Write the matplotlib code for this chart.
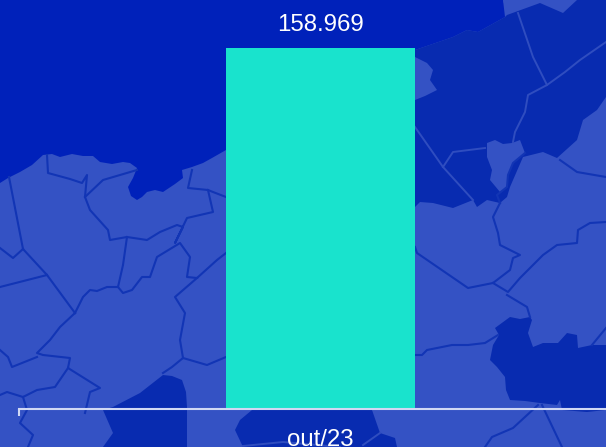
import matplotlib
matplotlib.use('Agg')
import matplotlib.pyplot as plt
from matplotlib.patches import Polygon

plt.rcParams['font.family'] = ['Liberation Sans', 'DejaVu Sans']

categories = ['out/23']
values = [158.969]

W, H = 606, 447
land_color = '#3452c4'
water_color = '#0021ba'
mid_color = '#082bb0'
dark_line = '#1235b5'
light_line = '#2f4dc0'
bar_color = '#19e3cd'
axis_color = '#d0d8f4'

# backdrop map, in pixels of the picture
water = [(0,0),(503,0),(505,17),(478,32),(467,30),(453,37),(415,50),(226,150),(212,158),(203,163),(192,167),(182,170),
         (183,178),(175,184),(163,192),(155,190),(147,192),(142,197),(137,200),(131,196),(128,187),(133,178),(137,168),
         (130,163),(123,162),(112,164),(100,162),(93,156),(83,156),(72,154),(60,157),(52,154),(43,155),
         (32,165),(20,172),(8,178),(0,183)]
north_land = [(503,0),(540,0),(540,3),(507,15)]
east_mid = [(415,50),(453,37),(467,30),(478,32),(505,17),(507,15),(540,3),(563,13),(577,0),(606,0),(606,97),
            (597,110),(583,120),(577,140),(557,158),(543,152),(523,157),(510,187),(507,197),(500,203),(487,200),
            (477,207),(473,200),(453,208),(433,203),(420,202),(415,207)]
inner_land = [(487,143),(495,140),(503,144),(512,143),(520,140),(525,153),(513,163),(508,175),(507,187),(500,192),
              (490,180),(492,170),(487,157)]
coast_bump = [(415,57),(427,63),(433,70),(430,80),(437,90),(425,96),(415,100)]
south_mid = [(163,375),(172,376),(182,380),(186,392),(187,407),(187,447),(103,447),(113,433),(103,410),(113,407),(140,393)]
center_mid = [(252,410),(240,420),(235,430),(243,447),(397,447),(395,438),(380,433),(372,410)]
east_dark = [(530,317),(520,319),(510,317),(495,328),(499,335),(493,345),(490,360),(497,367),(505,377),(506,390),
             (510,400),(525,401),(540,403),(557,405),(560,400),(562,410),(587,412),(606,410),(606,345),(592,345),
             (578,348),(577,335),(567,333),(558,343),(543,343),(533,347),(528,333),(532,320)]

land_lines = [
    [(9,177),(23,249),(47,275),(75,313)],
    [(0,248),(13,258),(23,249)],
    [(0,287),(47,275)],
    [(75,313),(83,297),(90,290),(97,291),(107,287),(118,287),(123,265),(127,237),(110,240),(108,230),(90,210),(85,197),
     (87,175),(82,183),(70,179),(48,173),(47,155)],
    [(85,197),(103,180),(137,170)],
    [(127,237),(147,240),(160,232),(177,225),(183,227),(175,243),(187,218),(213,212),(208,190),(188,188),(192,170)],
    [(208,190),(213,192),(226,197)],
    [(118,287),(123,293),(132,290),(142,277),(150,277),(157,257),(180,243),(190,257),(187,277),(197,278),
     (217,260),(226,253)],
    [(197,278),(175,297),(185,313),(180,340),(183,358),(172,367),(163,373)],
    [(183,358),(207,365),(226,357)],
    [(75,313),(60,327),(50,340),(37,353),(43,355),(70,358),(68,368),(100,388),(90,392),(85,413)],
    [(0,350),(8,357),(12,367),(37,357)],
    [(68,368),(55,387),(37,390),(23,397),(7,392),(0,395)],
    [(23,397),(27,410),(20,423),(33,435),(28,447)],
    [(415,247),(417,253),(468,288),(493,283),(510,270),(513,258),(520,255),(500,245),(498,233),(493,217),(500,203)],
    [(493,283),(508,292),(520,278),(543,255),(557,245),(577,243),(578,230),(590,223),(606,222)],
    [(507,295),(527,307),(530,317)],
    [(415,355),(422,355),(427,350),(452,345),(468,345),(485,343),(498,335)],
    [(560,160),(577,172),(606,177)],
    [(592,345),(606,328)],
    [(538,405),(513,428),(492,437),(485,447)],
    [(542,405),(562,447)],
    [(525,153),(513,163),(508,175),(507,187),(497,195),(500,203)],
]
mid_lines = [
    [(518,13),(533,57),(547,85),(528,95),(525,112),(515,132),(513,142)],
    [(547,85),(565,72),(580,60),(606,42)],
    [(415,127),(443,167),(473,200)],
    [(443,167),(453,152),(485,148)],
    [(243,446),(283,442),(340,447)],
    [(363,445),(380,433)],
]

fig = plt.figure(figsize=(W / 100, H / 100), dpi=100, facecolor=land_color)

bg = fig.add_axes([0, 0, 1, 1], zorder=0)
bg.set_xlim(0, W)
bg.set_ylim(H, 0)
bg.axis('off')
for pts, col in [(water, water_color), (north_land, land_color), (east_mid, mid_color), (inner_land, land_color),
                 (coast_bump, land_color), (south_mid, mid_color), (center_mid, mid_color), (east_dark, mid_color)]:
    bg.add_patch(Polygon(pts, closed=True, facecolor=col, edgecolor='none'))
for pts in land_lines:
    bg.plot(*zip(*pts), color=dark_line, lw=1.5, solid_joinstyle='round')
for pts in mid_lines:
    bg.plot(*zip(*pts), color=light_line, lw=1.4, solid_joinstyle='round')

# chart on top, bar centre at x=320.5 and 315 px per unit
ax = fig.add_axes([19 / W, (H - 409) / H, (W - 19) / W, 409 / H], zorder=1)
ax.patch.set_alpha(0)
bars = ax.bar(categories, values, width=0.6, color=bar_color)
ax.set_xlim(-301.5 / 315, 285.5 / 315)
ax.set_ylim(0, values[0] * 409 / 361)
for s in ['top', 'left', 'right']:
    ax.spines[s].set_visible(False)
ax.spines['bottom'].set_color(axis_color)
ax.spines['bottom'].set_linewidth(1.5)
ax.set_yticks([])
ax.tick_params(axis='x', which='major', length=0, pad=14.5, labelsize=17.3, labelcolor='white')
ax.set_xticks([ax.get_xlim()[0]], minor=True)
ax.tick_params(axis='x', which='minor', length=5, width=1.5, color=axis_color)
ax.bar_label(bars, labels=['%.3f' % v for v in values], padding=9, fontsize=17.3, color='white')

fig.savefig('out.png', dpi=100)
